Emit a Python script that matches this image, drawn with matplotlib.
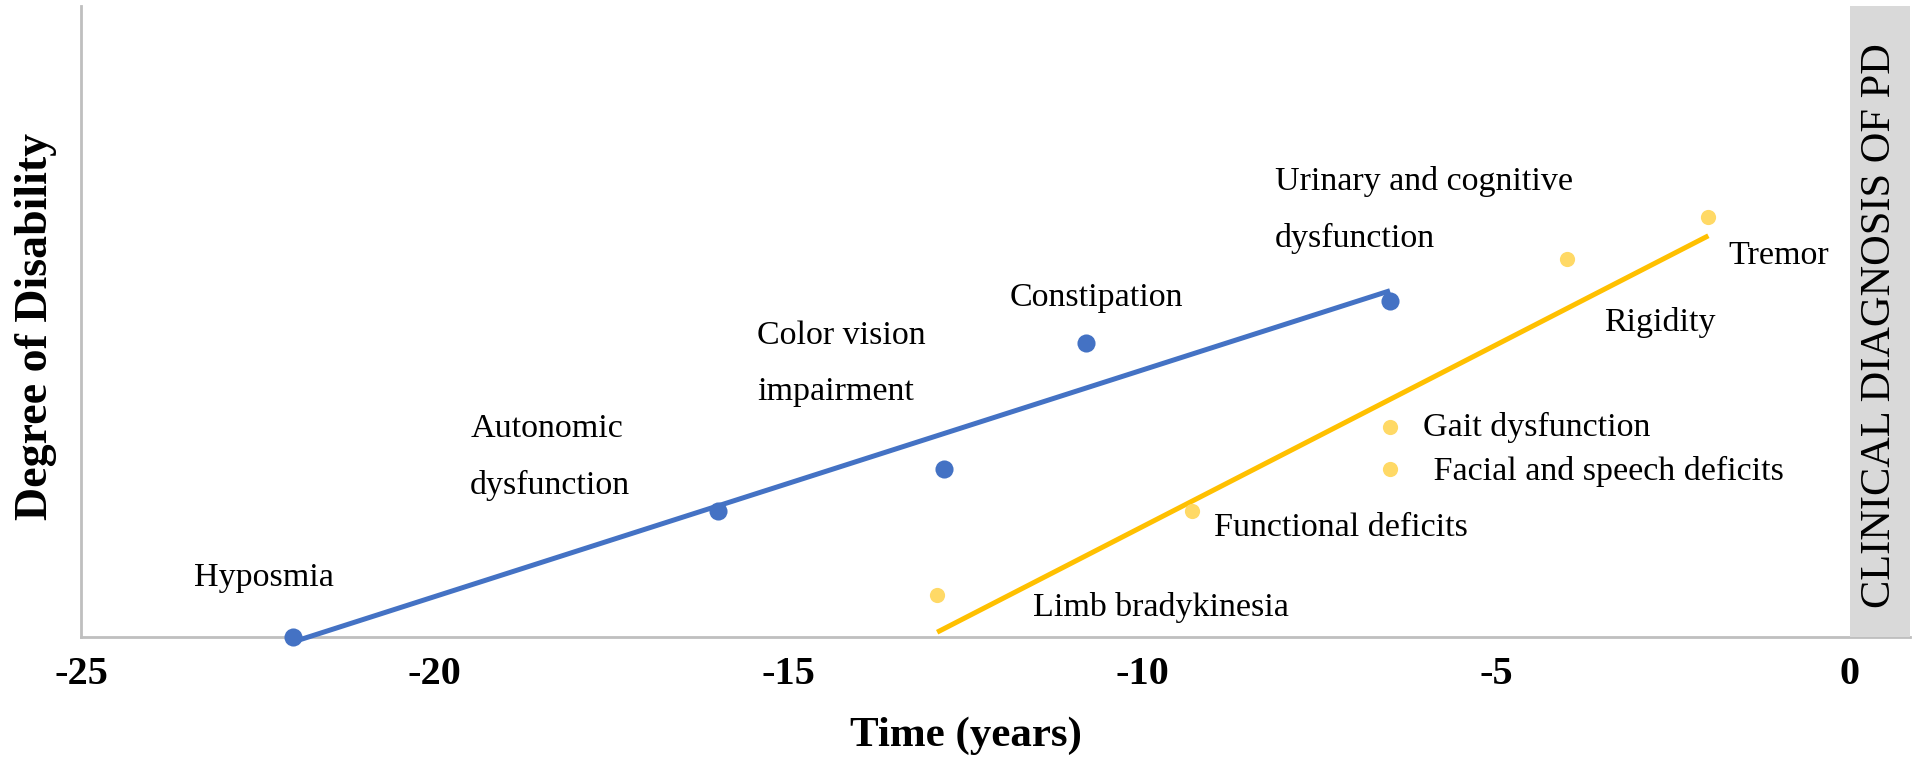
import numpy as np
import matplotlib
matplotlib.use("Agg")
import matplotlib.pyplot as plt

plt.rcParams['font.family'] = ['Liberation Serif', 'DejaVu Serif']

# prodromal (non-motor) symptoms, blue series
blue_labels = ['Hyposmia', 'Autonomic\n\ndysfunction', 'Color vision\n\nimpairment',
               'Constipation', 'Urinary and cognitive\n\ndysfunction']
blue_x = [-22, -16, -12.8, -10.8, -6.5]
blue_y = [0, 3, 4, 7, 8]

# motor symptoms, yellow series
yellow_labels = ['Limb bradykinesia', 'Functional deficits', ' Facial and speech deficits',
                 'Gait dysfunction', 'Rigidity', 'Tremor']
yellow_x = [-12.9, -9.3, -6.5, -6.5, -4, -2]
yellow_y = [1, 3, 4, 5, 9, 10]

x_ticks = [-25, -20, -15, -10, -5, 0]

# where each label sits (left edge, vertical centre), data units
blue_label_pos = [(-23.4, 1.4), (-19.5, 4.27), (-15.45, 6.5), (-11.88, 8.07), (-8.13, 10.15)]
yellow_label_pos = [(-11.55, 0.7), (-8.99, 2.59), (-6.0, 3.93), (-6.03, 4.98), (-3.47, 7.49), (-1.72, 9.06)]

BLUE = '#4472C4'
GOLD = '#FFC000'
LIGHT_GOLD = '#FFD966'


def main():
        fig = plt.figure(figsize=(19.2, 7.59), dpi=100)
        ax = fig.add_axes([0.0422, 0.1607, 0.9526, 0.831])
        xmax = 0.85
        ax.set_xlim(-25, xmax)
        ax.set_ylim(0, 15)

        # linear trend lines over each series
        for xs, ys, col in [(blue_x, blue_y, BLUE), (yellow_x, yellow_y, GOLD)]:
                k, b = np.polyfit(xs, ys, 1)
                xx = np.array([min(xs), max(xs)])
                ax.plot(xx, k * xx + b, color=col, lw=3.6, zorder=3, clip_on=False,
                        solid_capstyle='butt')

        ax.scatter(blue_x, blue_y, s=170, color=BLUE, zorder=4, clip_on=False, linewidths=0)
        ax.scatter(yellow_x, yellow_y, s=120, color=LIGHT_GOLD, zorder=4, clip_on=False, linewidths=0)

        for lab, (tx, ty) in zip(blue_labels, blue_label_pos):
                ax.text(tx, ty, lab, fontsize=24.5, va='center', ha='left', linespacing=0.9)
        for lab, (tx, ty) in zip(yellow_labels, yellow_label_pos):
                ax.text(tx, ty, lab, fontsize=24.5, va='center', ha='left')

        # clinical diagnosis band
        ax.axvspan(0, xmax, ymin=0, ymax=1.0, color='#D9D9D9', zorder=5, lw=0)
        ax.text(xmax / 2, 7.4, 'CLINICAL DIAGNOSIS OF PD', rotation=90, fontsize=30.5,
                ha='center', va='center', zorder=6)

        ax.spines['top'].set_visible(False)
        ax.spines['right'].set_visible(False)
        for s in ['left', 'bottom']:
                ax.spines[s].set_color('#BFBFBF')
                ax.spines[s].set_linewidth(2)
        ax.set_xticks(x_ticks)
        ax.set_xticklabels([str(t) for t in x_ticks], fontsize=29, fontweight='bold')
        ax.tick_params(axis='x', length=0, pad=14)
        ax.set_yticks([])

        ax.text(0.484, -0.157, 'Time (years)', transform=ax.transAxes, fontsize=31,
                fontweight='bold', ha='center', va='center')
        fig.text(0.019, 0.57, 'Degree of Disability', rotation=90, fontsize=33,
                 fontweight='bold', ha='center', va='center')

        fig.savefig('out.png', dpi=100)


if __name__ == "__main__":
        main()
